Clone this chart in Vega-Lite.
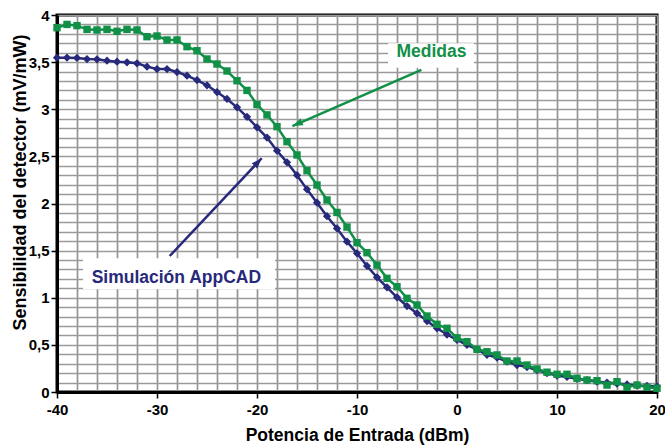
{
  "$schema": "https://vega.github.io/schema/vega-lite/v6.json",
  "width": 600,
  "height": 377,
  "autosize": {"type": "none"},
  "padding": {"left": 57, "top": 15, "right": 8, "bottom": 55},
  "background": "white",
  "config": {
    "view": {"stroke": "black", "strokeWidth": 3},
    "font": "Liberation Sans"
  },
  "datasets": {
    "curves": [
      {"p": -40, "s": 3.547, "serie": "Simulación AppCAD"},
      {"p": -39, "s": 3.547, "serie": "Simulación AppCAD"},
      {"p": -38, "s": 3.545, "serie": "Simulación AppCAD"},
      {"p": -37, "s": 3.533, "serie": "Simulación AppCAD"},
      {"p": -36, "s": 3.53, "serie": "Simulación AppCAD"},
      {"p": -35, "s": 3.515, "serie": "Simulación AppCAD"},
      {"p": -34, "s": 3.505, "serie": "Simulación AppCAD"},
      {"p": -33, "s": 3.498, "serie": "Simulación AppCAD"},
      {"p": -32, "s": 3.487, "serie": "Simulación AppCAD"},
      {"p": -31, "s": 3.452, "serie": "Simulación AppCAD"},
      {"p": -30, "s": 3.427, "serie": "Simulación AppCAD"},
      {"p": -29, "s": 3.427, "serie": "Simulación AppCAD"},
      {"p": -28, "s": 3.395, "serie": "Simulación AppCAD"},
      {"p": -27, "s": 3.356, "serie": "Simulación AppCAD"},
      {"p": -26, "s": 3.31, "serie": "Simulación AppCAD"},
      {"p": -25, "s": 3.254, "serie": "Simulación AppCAD"},
      {"p": -24, "s": 3.183, "serie": "Simulación AppCAD"},
      {"p": -23, "s": 3.109, "serie": "Simulación AppCAD"},
      {"p": -22, "s": 3.02, "serie": "Simulación AppCAD"},
      {"p": -21, "s": 2.92, "serie": "Simulación AppCAD"},
      {"p": -20, "s": 2.808, "serie": "Simulación AppCAD"},
      {"p": -19, "s": 2.7, "serie": "Simulación AppCAD"},
      {"p": -18, "s": 2.56, "serie": "Simulación AppCAD"},
      {"p": -17, "s": 2.437, "serie": "Simulación AppCAD"},
      {"p": -16, "s": 2.3, "serie": "Simulación AppCAD"},
      {"p": -15, "s": 2.15, "serie": "Simulación AppCAD"},
      {"p": -14, "s": 2.008, "serie": "Simulación AppCAD"},
      {"p": -13, "s": 1.865, "serie": "Simulación AppCAD"},
      {"p": -12, "s": 1.735, "serie": "Simulación AppCAD"},
      {"p": -11, "s": 1.595, "serie": "Simulación AppCAD"},
      {"p": -10, "s": 1.472, "serie": "Simulación AppCAD"},
      {"p": -9, "s": 1.337, "serie": "Simulación AppCAD"},
      {"p": -8, "s": 1.217, "serie": "Simulación AppCAD"},
      {"p": -7, "s": 1.111, "serie": "Simulación AppCAD"},
      {"p": -6, "s": 1.005, "serie": "Simulación AppCAD"},
      {"p": -5, "s": 0.912, "serie": "Simulación AppCAD"},
      {"p": -4, "s": 0.835, "serie": "Simulación AppCAD"},
      {"p": -3, "s": 0.753, "serie": "Simulación AppCAD"},
      {"p": -2, "s": 0.676, "serie": "Simulación AppCAD"},
      {"p": -1, "s": 0.61, "serie": "Simulación AppCAD"},
      {"p": 0, "s": 0.552, "serie": "Simulación AppCAD"},
      {"p": 1, "s": 0.5, "serie": "Simulación AppCAD"},
      {"p": 2, "s": 0.453, "serie": "Simulación AppCAD"},
      {"p": 3, "s": 0.395, "serie": "Simulación AppCAD"},
      {"p": 4, "s": 0.365, "serie": "Simulación AppCAD"},
      {"p": 5, "s": 0.322, "serie": "Simulación AppCAD"},
      {"p": 6, "s": 0.286, "serie": "Simulación AppCAD"},
      {"p": 7, "s": 0.265, "serie": "Simulación AppCAD"},
      {"p": 8, "s": 0.233, "serie": "Simulación AppCAD"},
      {"p": 9, "s": 0.2, "serie": "Simulación AppCAD"},
      {"p": 10, "s": 0.175, "serie": "Simulación AppCAD"},
      {"p": 11, "s": 0.16, "serie": "Simulación AppCAD"},
      {"p": 12, "s": 0.14, "serie": "Simulación AppCAD"},
      {"p": 13, "s": 0.125, "serie": "Simulación AppCAD"},
      {"p": 14, "s": 0.11, "serie": "Simulación AppCAD"},
      {"p": 15, "s": 0.1, "serie": "Simulación AppCAD"},
      {"p": 16, "s": 0.09, "serie": "Simulación AppCAD"},
      {"p": 17, "s": 0.08, "serie": "Simulación AppCAD"},
      {"p": 18, "s": 0.07, "serie": "Simulación AppCAD"},
      {"p": 19, "s": 0.065, "serie": "Simulación AppCAD"},
      {"p": 20, "s": 0.06, "serie": "Simulación AppCAD"},
      {"p": -40, "s": 3.865, "serie": "Medidas"},
      {"p": -39, "s": 3.9, "serie": "Medidas"},
      {"p": -38, "s": 3.887, "serie": "Medidas"},
      {"p": -37, "s": 3.848, "serie": "Medidas"},
      {"p": -36, "s": 3.841, "serie": "Medidas"},
      {"p": -35, "s": 3.848, "serie": "Medidas"},
      {"p": -34, "s": 3.827, "serie": "Medidas"},
      {"p": -33, "s": 3.848, "serie": "Medidas"},
      {"p": -32, "s": 3.841, "serie": "Medidas"},
      {"p": -31, "s": 3.77, "serie": "Medidas"},
      {"p": -30, "s": 3.777, "serie": "Medidas"},
      {"p": -29, "s": 3.735, "serie": "Medidas"},
      {"p": -28, "s": 3.735, "serie": "Medidas"},
      {"p": -27, "s": 3.664, "serie": "Medidas"},
      {"p": -26, "s": 3.621, "serie": "Medidas"},
      {"p": -25, "s": 3.533, "serie": "Medidas"},
      {"p": -24, "s": 3.48, "serie": "Medidas"},
      {"p": -23, "s": 3.406, "serie": "Medidas"},
      {"p": -22, "s": 3.303, "serie": "Medidas"},
      {"p": -21, "s": 3.2, "serie": "Medidas"},
      {"p": -20, "s": 3.05, "serie": "Medidas"},
      {"p": -19, "s": 2.94, "serie": "Medidas"},
      {"p": -18, "s": 2.815, "serie": "Medidas"},
      {"p": -17, "s": 2.656, "serie": "Medidas"},
      {"p": -16, "s": 2.515, "serie": "Medidas"},
      {"p": -15, "s": 2.348, "serie": "Medidas"},
      {"p": -14, "s": 2.196, "serie": "Medidas"},
      {"p": -13, "s": 2.037, "serie": "Medidas"},
      {"p": -12, "s": 1.905, "serie": "Medidas"},
      {"p": -11, "s": 1.75, "serie": "Medidas"},
      {"p": -10, "s": 1.584, "serie": "Medidas"},
      {"p": -9, "s": 1.478, "serie": "Medidas"},
      {"p": -8, "s": 1.347, "serie": "Medidas"},
      {"p": -7, "s": 1.206, "serie": "Medidas"},
      {"p": -6, "s": 1.117, "serie": "Medidas"},
      {"p": -5, "s": 0.994, "serie": "Medidas"},
      {"p": -4, "s": 0.923, "serie": "Medidas"},
      {"p": -3, "s": 0.806, "serie": "Medidas"},
      {"p": -2, "s": 0.718, "serie": "Medidas"},
      {"p": -1, "s": 0.676, "serie": "Medidas"},
      {"p": 0, "s": 0.575, "serie": "Medidas"},
      {"p": 1, "s": 0.534, "serie": "Medidas"},
      {"p": 2, "s": 0.453, "serie": "Medidas"},
      {"p": 3, "s": 0.427, "serie": "Medidas"},
      {"p": 4, "s": 0.393, "serie": "Medidas"},
      {"p": 5, "s": 0.329, "serie": "Medidas"},
      {"p": 6, "s": 0.329, "serie": "Medidas"},
      {"p": 7, "s": 0.286, "serie": "Medidas"},
      {"p": 8, "s": 0.244, "serie": "Medidas"},
      {"p": 9, "s": 0.21, "serie": "Medidas"},
      {"p": 10, "s": 0.188, "serie": "Medidas"},
      {"p": 11, "s": 0.188, "serie": "Medidas"},
      {"p": 12, "s": 0.145, "serie": "Medidas"},
      {"p": 13, "s": 0.127, "serie": "Medidas"},
      {"p": 14, "s": 0.12, "serie": "Medidas"},
      {"p": 15, "s": 0.074, "serie": "Medidas"},
      {"p": 16, "s": 0.109, "serie": "Medidas"},
      {"p": 17, "s": 0.05, "serie": "Medidas"},
      {"p": 18, "s": 0.074, "serie": "Medidas"},
      {"p": 19, "s": 0.05, "serie": "Medidas"},
      {"p": 20, "s": 0.04, "serie": "Medidas"}
    ],
    "notes": [
      {"serie": "Medidas", "tx": -2.56, "ty": 3.61, "bx0": -6.9, "bx1": 1.7, "by0": 3.44, "by1": 3.7, "ax0": -3.56, "ay0": 3.417, "ax1": -16.46, "ay1": 2.822},
      {"serie": "Simulación AppCAD", "tx": -28.06, "ty": 1.206, "bx0": -37.4, "bx1": -18.2, "by0": 1.09, "by1": 1.42, "ax0": -28.73, "ay0": 1.443, "ax1": -19.53, "ay1": 2.48}
    ]
  },
  "layer": [
    {
      "data": {"name": "curves"},
      "mark": {"type": "line", "strokeWidth": 2.5},
      "encoding": {
        "x": {
          "field": "p", "type": "quantitative",
          "scale": {"domain": [-40, 20], "nice": false, "zero": false},
          "axis": {
            "title": "Potencia de Entrada (dBm)",
            "titleFont": "Liberation Sans", "titleFontSize": 17.5, "titleFontWeight": "bold", "titleColor": "black", "titlePadding": 9,
            "tickCount": 100,
            "values": [-40,-38,-36,-34,-32,-30,-28,-26,-24,-22,-20,-18,-16,-14,-12,-10,-8,-6,-4,-2,0,2,4,6,8,10,12,14,16,18,20],
            "labelExpr": "datum.value % 10 === 0 ? toString(datum.value) : ''",
            "labelFont": "Liberation Sans", "labelFontSize": 15, "labelFontWeight": "bold", "labelColor": "black",
            "labelOverlap": false, "labelFlush": false, "labelPadding": 4,
            "grid": true, "gridColor": "#959595", "gridWidth": 1.7, "gridOpacity": 1,
            "domainColor": "black", "domainWidth": 3,
            "tickColor": "black", "tickWidth": 1.5, "tickSize": 6,
            "tickOpacity": {"condition": {"test": "datum.value % 10 === 0", "value": 1}, "value": 0}
          }
        },
        "y": {
          "field": "s", "type": "quantitative",
          "scale": {"domain": [0, 4], "nice": false},
          "axis": {
            "title": "Sensibilidad del detector (mV/mW)",
            "titleFont": "Liberation Sans", "titleFontSize": 18, "titleFontWeight": "bold", "titleColor": "black",
            "titleX": -37, "titleY": 167, "titleBaseline": "middle", "titleAlign": "center", "titleAngle": -90,
            "tickCount": 100,
            "values": [0,0.1,0.2,0.3,0.4,0.5,0.6,0.7,0.8,0.9,1,1.1,1.2,1.3,1.4,1.5,1.6,1.7,1.8,1.9,2,2.1,2.2,2.3,2.4,2.5,2.6,2.7,2.8,2.9,3,3.1,3.2,3.3,3.4,3.5,3.6,3.7,3.8,3.9,4],
            "labelExpr": "abs(datum.value * 2 - round(datum.value * 2)) < 0.001 ? replace(format(datum.value, '.1~f'), '.', ',') : ''",
            "labelFont": "Liberation Sans", "labelFontSize": 15, "labelFontWeight": "bold", "labelColor": "black",
            "labelOverlap": false, "labelFlush": false, "labelPadding": 2,
            "grid": true, "gridColor": "#9a9a9a", "gridWidth": 1.4, "gridOpacity": 1,
            "domainColor": "black", "domainWidth": 3,
            "tickColor": "black", "tickWidth": 1.5, "tickSize": 6,
            "tickOpacity": {"condition": {"test": "abs(datum.value * 2 - round(datum.value * 2)) < 0.001", "value": 1}, "value": 0}
          }
        },
        "color": {
          "field": "serie", "type": "nominal",
          "scale": {"domain": ["Medidas", "Simulación AppCAD"], "range": ["#119047", "#27297a"]},
          "legend": null
        },
        "order": {"field": "p", "type": "quantitative"}
      }
    },
    {
      "data": {"name": "curves"},
      "mark": {"type": "point", "filled": true, "opacity": 1, "strokeWidth": 0},
      "encoding": {
        "x": {"field": "p", "type": "quantitative"},
        "y": {"field": "s", "type": "quantitative"},
        "color": {"field": "serie", "type": "nominal", "legend": null},
        "shape": {"field": "serie", "type": "nominal", "scale": {"domain": ["Medidas", "Simulación AppCAD"], "range": ["square", "diamond"]}, "legend": null},
        "size": {"field": "serie", "type": "nominal", "scale": {"domain": ["Medidas", "Simulación AppCAD"], "range": [55, 68]}, "legend": null}
      }
    },
    {
      "data": {"name": "notes"},
      "mark": {"type": "rect", "fill": "white", "stroke": null},
      "encoding": {
        "x": {"field": "bx0", "type": "quantitative"},
        "x2": {"field": "bx1"},
        "y": {"field": "by0", "type": "quantitative"},
        "y2": {"field": "by1"}
      }
    },
    {
      "data": {"name": "notes"},
      "mark": {"type": "text", "font": "Liberation Sans", "fontSize": 17.5, "fontWeight": "bold", "align": "center", "baseline": "middle"},
      "encoding": {
        "x": {"field": "tx", "type": "quantitative"},
        "y": {"field": "ty", "type": "quantitative"},
        "text": {"field": "serie"},
        "color": {"field": "serie", "type": "nominal", "legend": null}
      }
    },
    {
      "data": {"name": "notes"},
      "mark": {"type": "rule", "strokeWidth": 2.5},
      "encoding": {
        "x": {"field": "ax0", "type": "quantitative"},
        "y": {"field": "ay0", "type": "quantitative"},
        "x2": {"field": "ax1"},
        "y2": {"field": "ay1"},
        "color": {"field": "serie", "type": "nominal", "legend": null}
      }
    },
    {
      "data": {"name": "notes"},
      "transform": [{"filter": "datum.serie === 'Medidas'"}],
      "mark": {"type": "point", "shape": "M0,0L-0.75,2.1L0.75,2.1Z", "filled": true, "size": 100, "angle": 246.5, "opacity": 1, "strokeWidth": 0},
      "encoding": {
        "x": {"field": "ax1", "type": "quantitative"},
        "y": {"field": "ay1", "type": "quantitative"},
        "color": {"field": "serie", "type": "nominal", "legend": null}
      }
    },
    {
      "data": {"name": "notes"},
      "transform": [{"filter": "datum.serie !== 'Medidas'"}],
      "mark": {"type": "point", "shape": "M0,0L-0.75,2.1L0.75,2.1Z", "filled": true, "size": 100, "angle": 43.2, "opacity": 1, "strokeWidth": 0},
      "encoding": {
        "x": {"field": "ax1", "type": "quantitative"},
        "y": {"field": "ay1", "type": "quantitative"},
        "color": {"field": "serie", "type": "nominal", "legend": null}
      }
    }
  ]
}
